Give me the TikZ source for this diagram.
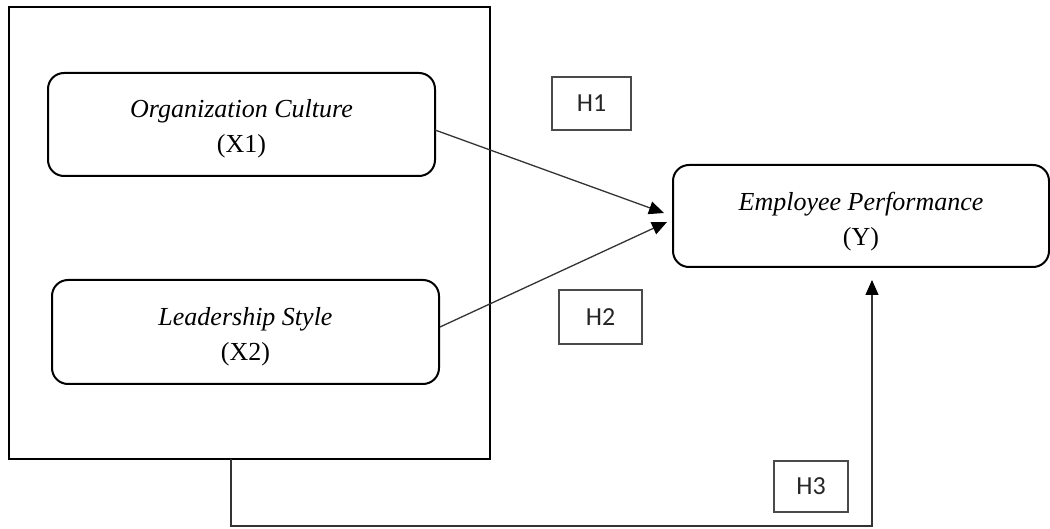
\documentclass[tikz,border=0pt]{standalone}
\usepackage{fontspec}
\setmainfont{Liberation Serif}
\newfontfamily\hfont{Carlito}
\usetikzlibrary{arrows.meta}
\definecolor{linegray}{HTML}{333333}
\definecolor{boxgray}{HTML}{4A4A4A}
\newcommand{\toppad}{\rule{0pt}{27pt}}
\tikzset{
  var/.style={draw=black, line width=2pt, rounded corners=16pt, align=center,
    font=\fontsize{26}{35}\selectfont, inner sep=0pt},
  hyp/.style={draw=boxgray, line width=1.3pt, font=\hfont\fontsize{26}{30}\selectfont,
    text=black!85, inner sep=0pt},
  frame/.style={draw=black, line width=2.2pt, inner sep=0pt},
  conn/.style={draw=linegray, line width=1.3pt, -{Triangle[length=15pt,width=13pt,color=black]}}
}
\begin{document}
\begin{tikzpicture}[x=1pt,y=-1pt]
\useasboundingbox (0,0) rectangle (1050,529);
\node[frame, minimum width=481pt, minimum height=452pt] (box) at (249.5,233) {};
\node[var, minimum width=387pt, minimum height=103pt] (oc) at (241.5,124.5)
  {\toppad\textit{Organization Culture}\\(X1)};
\node[var, minimum width=387pt, minimum height=104pt] (ls) at (245.5,332)
  {\toppad\textit{Leadership Style}\\(X2)};
\node[var, minimum width=376pt, minimum height=102pt] (ep) at (861,216)
  {\rule{0pt}{30pt}\textit{Employee Performance}\\(Y)};
\node[hyp, minimum width=79pt, minimum height=53pt] (h1) at (591.5,103.5) {H1};
\node[hyp, minimum width=83pt, minimum height=54pt] (h2) at (600.5,317) {H2};
\node[hyp, minimum width=74pt, minimum height=51pt] (h3) at (811,486.5) {H3};
\coordinate (s1) at (435,130);
\coordinate (t1) at (664,213);
\coordinate (s2) at (440,327);
\coordinate (t2) at (667,222);
\coordinate (drop) at (231,459);
\coordinate (low) at (231,526);
\coordinate (t3) at (872,280);
\draw[conn] (s1) -- (t1);
\draw[conn] (s2) -- (t2);
\draw[conn] (drop) -- (low) -| (t3);
\end{tikzpicture}
\end{document}
